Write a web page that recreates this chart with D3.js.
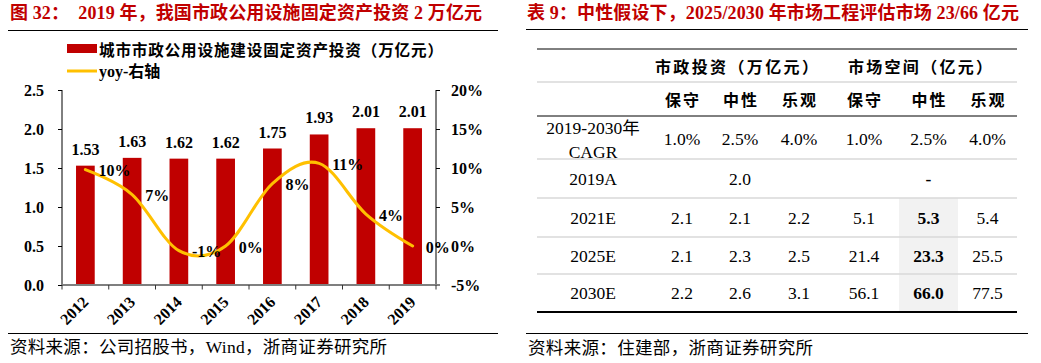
<!DOCTYPE html>
<html>
<head>
<meta charset="utf-8">
<script src="https://cdn.jsdelivr.net/npm/d3@7"></script>
<style>
  body { margin: 0; background: #fff; }
  svg { display: block; font-family: "Liberation Serif", "Times New Roman", "Noto Sans CJK SC", serif; }
  text { white-space: pre; }
</style>
</head>
<body>
<div id="grafico"></div>
<script>
// Datos del gráfico (figura 32)
const anios = ["2012", "2013", "2014", "2015", "2016", "2017", "2018", "2019"];
const inversion = [1.53, 1.63, 1.62, 1.62, 1.75, 1.93, 2.01, 2.01];
const yoy = [0.098, 0.066, -0.006, 0.000, 0.080, 0.106, 0.041, 0.000];
const ticksIzq = [0, 0.5, 1.0, 1.5, 2.0, 2.5];
const ticksDer = [-0.05, 0, 0.05, 0.10, 0.15, 0.20];

// Datos de la tabla 9
const cabeceras = ["市政投资（万亿元）", "市场空间（亿元）"];
const escenarios = ["保守", "中性", "乐观", "保守", "中性", "乐观"];
const cagr = ["1.0%", "2.5%", "4.0%", "1.0%", "2.5%", "4.0%"];
const filas = ["2019A", "2021E", "2025E", "2030E"];
const invTabla = [[null, 2.0, null], [2.1, 2.1, 2.2], [2.1, 2.3, 2.5], [2.2, 2.6, 3.1]];
const mercado = [[null, "-", null], [5.1, 5.3, 5.4], [21.4, 23.3, 25.5], [56.1, 66.0, 77.5]];

const width = 1041, height = 363;
const rojo = "#C00000", amarillo = "#FFC000", cjk = "'Noto Sans CJK SC', sans-serif";
const serif = "'Liberation Serif', 'Times New Roman', serif";

// Formato con guion normal como signo menos
const locale = d3.formatLocale({ decimal: ".", thousands: ",", grouping: [3], currency: ["", ""], minus: "-" });
const pct = locale.format(".0%");

const svg = d3.select("#grafico")
    .append("svg")
    .attr("width", width)
    .attr("height", height);

// Texto con ancho fijo (para igualar el ancho del original)
function texto(x, y, ancho, contenido, size, extra) {
    const t = svg.append("text")
        .attr("x", x).attr("y", y)
        .attr("dominant-baseline", "central")
        .attr("font-size", size)
        .attr("textLength", ancho)
        .attr("lengthAdjust", "spacing")
        .text(contenido);
    if (extra) extra(t);
    return t;
}

// ---------- Panel izquierdo ----------
texto(10, 13, 472, "图 32：  2019 年，我国市政公用设施固定资产投资 2 万亿元", 18,
    t => t.attr("font-weight", "bold").attr("fill", rojo));

svg.append("line").attr("x1", 8).attr("x2", 498).attr("y1", 30.5).attr("y2", 30.5)
    .attr("stroke", "#000").attr("stroke-width", 1);

// Leyenda
svg.append("rect").attr("x", 67).attr("y", 44).attr("width", 30).attr("height", 9).attr("fill", rojo);
texto(99, 49, 344, "城市市政公用设施建设固定资产投资（万亿元）", 15.6,
    t => t.attr("font-weight", "bold").style("font-family", cjk));
svg.append("line").attr("x1", 67).attr("x2", 97).attr("y1", 71).attr("y2", 71)
    .attr("stroke", amarillo).attr("stroke-width", 3);
svg.append("text").attr("x", 99).attr("y", 71).attr("dominant-baseline", "central")
    .attr("font-size", 16).attr("font-weight", "bold")
    .text("yoy-右轴");

// Escalas
const x = d3.scaleBand().domain(anios).range([62, 436]).paddingInner(0.6).paddingOuter(0.3);
const yIzq = d3.scaleLinear().domain([0, 2.5]).range([285, 90]);
const yDer = d3.scaleLinear().domain([-0.05, 0.20]).range([285, 90]);

// Barras
svg.append("g")
    .selectAll("rect")
    .data(inversion)
    .enter()
    .append("rect")
    .attr("x", (d, i) => x(anios[i]))
    .attr("y", d => yIzq(d))
    .attr("width", x.bandwidth())
    .attr("height", d => yIzq(0) - yIzq(d))
    .attr("fill", rojo);

svg.append("g")
    .selectAll("text")
    .data(inversion)
    .enter()
    .append("text")
    .attr("x", (d, i) => x(anios[i]) + x.bandwidth() / 2)
    .attr("y", d => yIzq(d) - 11)
    .attr("text-anchor", "middle")
    .attr("font-size", 16).attr("font-weight", "bold")
    .text(d => d3.format(".2f")(d));

// Ejes Y
const ejeIzq = svg.append("g")
    .attr("transform", "translate(62,0)")
    .call(d3.axisLeft(yIzq).tickValues(ticksIzq).tickFormat(d3.format(".1f")).tickSize(4).tickPadding(14));
const ejeDer = svg.append("g")
    .attr("transform", "translate(436,0)")
    .call(d3.axisRight(yDer).tickValues(ticksDer).tickFormat(pct).tickSize(4).tickPadding(11));

[ejeIzq, ejeDer].forEach(g => {
    g.select(".domain").attr("stroke", "#000").attr("d", "M0,90V285");
    g.selectAll(".tick line").attr("stroke", "#000");
    g.selectAll(".tick text")
        .attr("fill", "#000")
        .attr("font-size", 16).attr("font-weight", "bold")
        .style("font-family", serif);
});

// Eje X con marcas en los límites de cada categoría
const ejeX = svg.append("g");
ejeX.append("line").attr("x1", 62).attr("x2", 440).attr("y1", 285).attr("y2", 285)
    .attr("stroke", "#7f7f7f").attr("stroke-width", 2);
const limites = anios.map(a => x(a) - x.step() * x.paddingInner() / 2).concat([x.range()[1]]);
ejeX.selectAll("line.marca")
    .data(limites)
    .enter()
    .append("line")
    .attr("class", "marca")
    .attr("x1", d => d).attr("x2", d => d)
    .attr("y1", 285).attr("y2", 289.5)
    .attr("stroke", "#333");
ejeX.selectAll("text")
    .data(anios)
    .enter()
    .append("text")
    .attr("transform", d => `translate(${x(d) + x.bandwidth() / 2 + 4},${303}) rotate(-45)`)
    .attr("text-anchor", "end")
    .attr("font-size", 16).attr("font-weight", "bold")
    .text(d => d);

// Línea yoy suavizada
const linea = d3.line()
    .x((d, i) => x(anios[i]) + x.bandwidth() / 2)
    .y(d => yDer(d))
    .curve(d3.curveCardinal.tension(0));

svg.append("path")
    .datum(yoy)
    .attr("d", linea)
    .attr("fill", "none")
    .attr("stroke", amarillo)
    .attr("stroke-width", 3)
    .attr("stroke-linecap", "round");

svg.append("g")
    .selectAll("text")
    .data(yoy)
    .enter()
    .append("text")
    .attr("x", (d, i) => x(anios[i]) + x.bandwidth() / 2 + 13)
    .attr("y", d => yDer(d) + 1)
    .attr("dominant-baseline", "central")
    .attr("font-size", 16).attr("font-weight", "bold")
    .text(d => pct(d));

svg.append("line").attr("x1", 8).attr("x2", 498).attr("y1", 333.5).attr("y2", 333.5)
    .attr("stroke", "#000").attr("stroke-width", 1);
texto(10, 347, 377, "资料来源：公司招股书，Wind，浙商证券研究所", 17.5);

// ---------- Panel derecho: tabla ----------
texto(527, 13, 492, "表 9：中性假设下，2025/2030 年市场工程评估市场 23/66 亿元", 18,
    t => t.attr("font-weight", "bold").attr("fill", rojo));

svg.append("line").attr("x1", 526).attr("x2", 1028).attr("y1", 29.5).attr("y2", 29.5)
    .attr("stroke", "#000").attr("stroke-width", 1);

const bordesCol = [537, 653, 711, 769, 829, 899, 958, 1017];
const bordesFila = [49, 82, 116, 159, 198, 237, 274, 312];
const centroCol = i => (bordesCol[i] + bordesCol[i + 1]) / 2;
const centroFila = i => (bordesFila[i] + bordesFila[i + 1]) / 2;

const tabla = svg.append("g");

// Sombreado de la columna "中性" del mercado
tabla.append("rect")
    .attr("x", bordesCol[5]).attr("y", bordesFila[4])
    .attr("width", bordesCol[6] - bordesCol[5])
    .attr("height", bordesFila[7] - bordesFila[4])
    .attr("fill", "#f2f2f2");

// Líneas horizontales
const estiloLinea = [
    { c: "#000", w: 1 }, { c: "#d9d9d9", w: 1.5 }, { c: "#000", w: 1 }, { c: "#d9d9d9", w: 1.5 },
    { c: "#d9d9d9", w: 1.5 }, { c: "#d9d9d9", w: 1.5 }, { c: "#d9d9d9", w: 1.5 }, { c: "#000", w: 2 }
];
tabla.selectAll("line.fila")
    .data(bordesFila)
    .enter()
    .append("line")
    .attr("class", "fila")
    .attr("x1", bordesCol[0]).attr("x2", bordesCol[7])
    .attr("y1", d => d).attr("y2", d => d)
    .attr("stroke", (d, i) => estiloLinea[i].c)
    .attr("stroke-width", (d, i) => estiloLinea[i].w);

// Cabeceras
const anchosCab = [163, 144];
const centrosCab = [736.5, 920];
cabeceras.forEach((c, i) => {
    tabla.append("text")
        .attr("x", centrosCab[i] - anchosCab[i] / 2)
        .attr("y", centroFila(0))
        .attr("dominant-baseline", "central")
        .attr("font-size", 16).attr("font-weight", "bold")
        .attr("textLength", anchosCab[i]).attr("lengthAdjust", "spacing")
        .style("font-family", cjk)
        .text(c);
});

tabla.selectAll("text.esc")
    .data(escenarios)
    .enter()
    .append("text")
    .attr("class", "esc")
    .attr("x", (d, i) => centroCol(i + 1) - 17)
    .attr("y", centroFila(1))
    .attr("dominant-baseline", "central")
    .attr("font-size", 16).attr("font-weight", "bold")
    .attr("textLength", 34).attr("lengthAdjust", "spacing")
    .style("font-family", cjk)
    .text(d => d);

// Fila CAGR
const etiquetaCagr = tabla.append("text")
    .attr("text-anchor", "middle")
    .attr("font-size", 17.5);
etiquetaCagr.append("tspan").attr("x", centroCol(0) - 2).attr("y", 134).text("2019-2030年");
etiquetaCagr.append("tspan").attr("x", centroCol(0) - 2).attr("y", 158).text("CAGR");

tabla.selectAll("text.cagr")
    .data(cagr)
    .enter()
    .append("text")
    .attr("class", "cagr")
    .attr("x", (d, i) => centroCol(i + 1))
    .attr("y", 139)
    .attr("text-anchor", "middle").attr("dominant-baseline", "central")
    .attr("font-size", 17.5)
    .text(d => d);

// Filas de años
filas.forEach((f, r) => {
    const yFila = centroFila(r + 3);
    tabla.append("text")
        .attr("x", centroCol(0) - 2).attr("y", yFila)
        .attr("text-anchor", "middle").attr("dominant-baseline", "central")
        .attr("font-size", 17.5)
        .text(f);
    const valores = invTabla[r].concat(mercado[r]);
    valores.forEach((v, c) => {
        if (v == null) return;
        tabla.append("text")
            .attr("x", centroCol(c + 1)).attr("y", yFila)
            .attr("text-anchor", "middle").attr("dominant-baseline", "central")
            .attr("font-size", 17.5)
            .attr("font-weight", c === 4 ? "bold" : "normal")
            .text(typeof v === "number" ? d3.format(".1f")(v) : v);
    });
});

svg.append("line").attr("x1", 526).attr("x2", 1028).attr("y1", 333.5).attr("y2", 333.5)
    .attr("stroke", "#000").attr("stroke-width", 1);
texto(528, 348, 285, "资料来源：住建部，浙商证券研究所", 17.5);
</script>
</body>
</html>
